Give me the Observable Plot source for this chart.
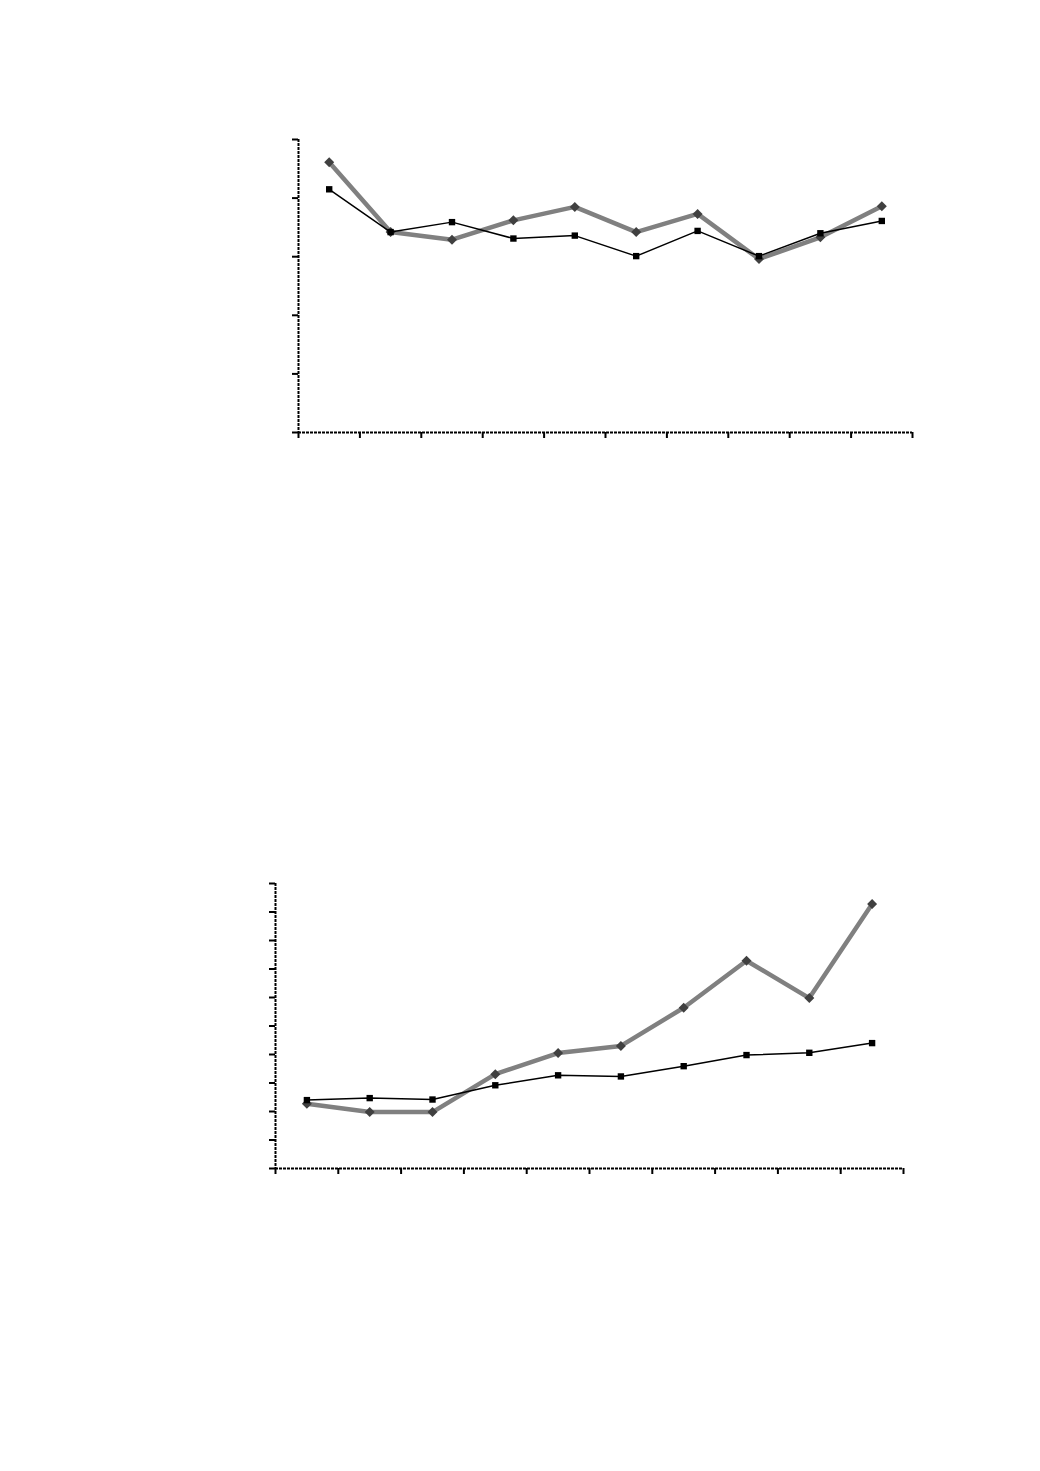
<!DOCTYPE html>
<html>
<head>
<meta charset="utf-8">
<script src="https://cdn.jsdelivr.net/npm/d3@7"></script>
<script src="https://cdn.jsdelivr.net/npm/@observablehq/plot@0.6"></script>
<style>
  html, body { margin: 0; padding: 0; background: #fff; }
  body { width: 1040px; height: 1471px; position: relative; overflow: hidden; font-family: "Liberation Sans", Arial, sans-serif; }
  .panel { position: absolute; left: 0; }
</style>
</head>
<body>
<div id="top" class="panel" style="top:0px"></div>
<div id="bottom" class="panel" style="top:800px"></div>
<script>
// Categories (10 periods, no labels shown in the reference)
const periods = [1, 2, 3, 4, 5, 6, 7, 8, 9, 10];

// Top panel series (y axis 0..5, unlabeled)
const topGray  = [4.61, 3.42, 3.29, 3.62, 3.85, 3.42, 3.73, 2.96, 3.33, 3.86];
const topBlack = [4.15, 3.42, 3.59, 3.31, 3.36, 3.01, 3.44, 3.01, 3.40, 3.61];
const topYTicks = [0, 1, 2, 3, 4, 5];

// Bottom panel series (y axis 0..10, unlabeled)
const botGray  = [2.27, 1.98, 1.98, 3.31, 4.05, 4.30, 5.64, 7.29, 5.98, 9.28];
const botBlack = [2.40, 2.47, 2.42, 2.92, 3.27, 3.23, 3.59, 3.98, 4.06, 4.40];
const botYTicks = [0, 1, 2, 3, 4, 5, 6, 7, 8, 9, 10];

const xTicks = [0, 1, 2, 3, 4, 5, 6, 7, 8, 9, 10];

function rows(vals) {
  return periods.map((p, i) => ({x: p - 0.5, y: vals[i]}));
}

function panel({gray, black, yTicks, yMax, height, mt, mb, ml, mr}) {
  const g = rows(gray), b = rows(black);
  return Plot.plot({
    width: 1040,
    height,
    marginTop: mt,
    marginBottom: mb,
    marginLeft: ml,
    marginRight: mr,
    x: {domain: [0, periods.length], axis: null, label: null},
    y: {domain: [0, yMax], axis: null, label: null},
    marks: [
      Plot.axisX({ticks: xTicks, tickSize: 6, tickFormat: () => "", label: null, stroke: "#000", strokeWidth: 2, tickPadding: 0}),
      Plot.axisY({ticks: yTicks, tickSize: 6, tickFormat: () => "", label: null, stroke: "#000", strokeWidth: 2, tickPadding: 0}),
      Plot.ruleY([0], {stroke: "#000", strokeWidth: 2, strokeDasharray: "3,1"}),
      Plot.ruleX([0], {stroke: "#000", strokeWidth: 2, strokeDasharray: "3,1"}),
      Plot.line(g, {x: "x", y: "y", stroke: "#808080", strokeWidth: 4.5, strokeLinejoin: "miter"}),
      Plot.dot(g, {x: "x", y: "y", symbol: "diamond2", r: 4.5, fill: "#404040", stroke: "none"}),
      Plot.line(b, {x: "x", y: "y", stroke: "#000", strokeWidth: 1.5}),
      Plot.dot(b, {x: "x", y: "y", symbol: "square", r: 3.6, fill: "#000", stroke: "none"})
    ]
  });
}

document.getElementById("top").append(panel({
  gray: topGray, black: topBlack, yTicks: topYTicks, yMax: 5,
  height: 480, mt: 139, mb: 48, ml: 298, mr: 128
}));

document.getElementById("bottom").append(panel({
  gray: botGray, black: botBlack, yTicks: botYTicks, yMax: 10,
  height: 420, mt: 83, mb: 52, ml: 275, mr: 137
}));
</script>
</body>
</html>
